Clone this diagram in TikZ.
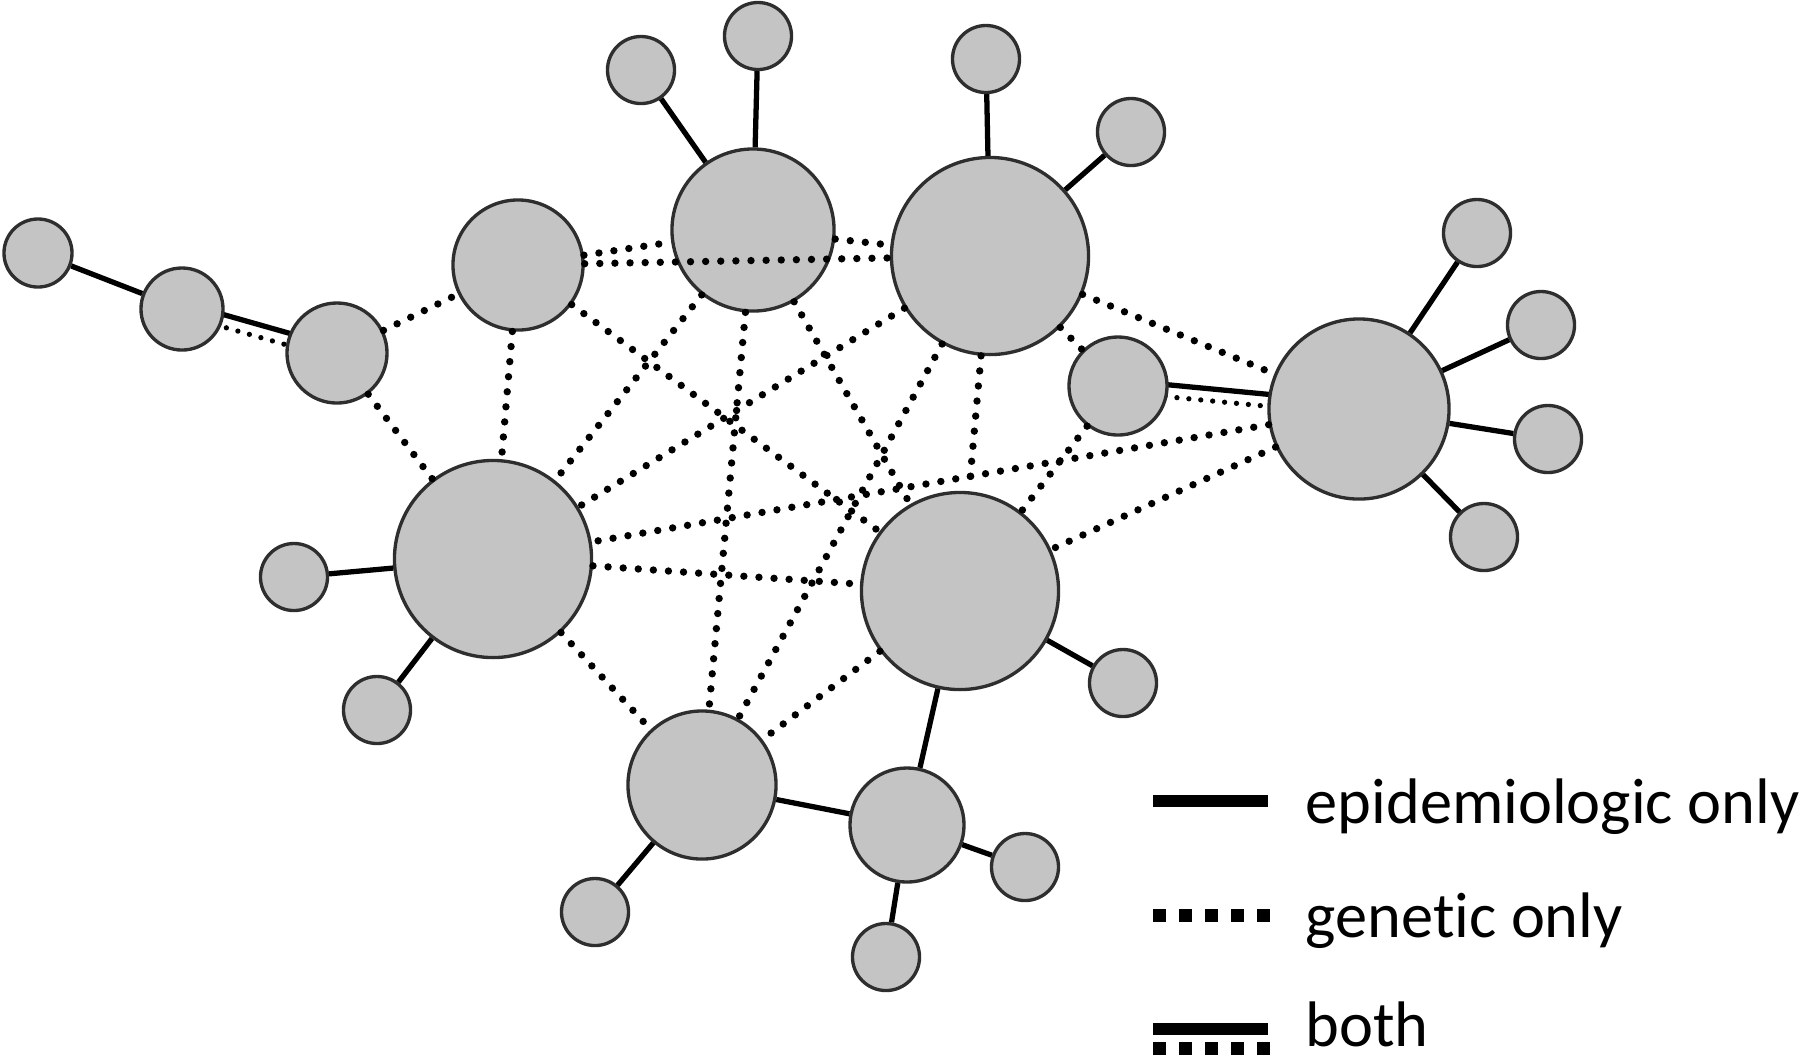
\documentclass[tikz,border=0pt]{standalone}
\usepackage{fontspec}
\setmainfont[Ligatures=NoCommon]{Carlito}
\usetikzlibrary{calc,backgrounds}
\definecolor{ngray}{HTML}{C4C4C4}
\definecolor{bord}{HTML}{2E2E2E}
\begin{document}
\begin{tikzpicture}[x=0.01cm,y=-0.01cm,
 nd/.style={circle,draw=bord,fill=ngray,line width=0.95pt,inner sep=0pt,minimum size=#1},
 epi/.style={line width=1.5pt,black},
 gen/.style={line width=2.1pt,black,line cap=round,dash pattern=on 0pt off 4.3pt},
 genb/.style={line width=1.5pt,black,line cap=round,dash pattern=on 0pt off 3.4pt},
 legsolid/.style={line width=3.4pt,black},
 legdot/.style={line width=3.7pt,black,dash pattern=on 3.7pt off 3.7pt},
 lbl/.style={anchor=base west,inner sep=0pt,font=\fontsize{18.3pt}{22pt}\selectfont}]
\useasboundingbox (0,0) rectangle (1800,1059);

% nodes
\node[nd=0.68cm] (L1) at (38,253) {};
\node[nd=0.82cm] (L2) at (182,309) {};
\node[nd=1.00cm] (L3) at (337,353) {};
\node[nd=1.30cm] (A) at (518,265) {};
\node[nd=1.62cm] (B) at (753,230) {};
\node[nd=0.67cm] (B1) at (641,70) {};
\node[nd=0.67cm] (B2) at (758,36) {};
\node[nd=1.97cm] (C) at (990,256) {};
\node[nd=0.67cm] (C1) at (986,59) {};
\node[nd=0.67cm] (C2) at (1131,132) {};
\node[nd=0.98cm] (D) at (1118,386) {};
\node[nd=1.80cm] (E) at (1359,409) {};
\node[nd=0.67cm] (E1) at (1477,233) {};
\node[nd=0.67cm] (E2) at (1541,325) {};
\node[nd=0.67cm] (E3) at (1548,439) {};
\node[nd=0.67cm] (E4) at (1484,537) {};
\node[nd=1.97cm] (F) at (493,559) {};
\node[nd=0.67cm] (F1) at (294,577) {};
\node[nd=0.67cm] (F2) at (377,710) {};
\node[nd=1.97cm] (G) at (960,591) {};
\node[nd=0.67cm] (G1) at (1123,683) {};
\node[nd=1.48cm] (H) at (702,785) {};
\node[nd=0.67cm] (H1) at (595,912) {};
\node[nd=1.14cm] (I) at (907,825) {};
\node[nd=0.67cm] (I1) at (1025,867) {};
\node[nd=0.67cm] (I2) at (886,957) {};

% both (epidemiologic and genetic)
\begin{scope}[on background layer]
\draw[epi] ($(L2)!1.7pt!90:(L3)$) -- ($(L3)!1.7pt!-90:(L2)$);
\draw[genb] ($(L2)!1.7pt!-90:(L3)$) -- ($(L3)!1.7pt!90:(L2)$);
\draw[epi] ($(D)!1.7pt!90:(E)$) -- ($(E)!1.7pt!-90:(D)$);
\draw[genb] ($(D)!1.7pt!-90:(E)$) -- ($(E)!1.7pt!90:(D)$);
\end{scope}

% epidemiologic only
\foreach \a/\b in {L1/L2,B/B1,B/B2,C/C1,C/C2,E/E1,E/E2,E/E3,E/E4,F/F1,F/F2,G/G1,G/I,H/I,H/H1,I/I1,I/I2}
  \draw[epi] (\a) -- (\b);

% genetic only
\foreach \a/\b in {L3/A,L3/F,A/B,A/C,A/F,A/G,B/C,B/F,B/H,B/G,C/F,C/H,C/G,C/D,C/E,D/G,E/F,E/G,F/G,F/H,G/H}
  \draw[gen] (\a) -- (\b);

% legend
\coordinate (s1) at (1153,801); \coordinate (e1) at (1268,801);
\coordinate (s2) at (1153,915); \coordinate (e2) at (1272,915);
\coordinate (s3) at (1153,1029); \coordinate (e3) at (1268,1029);
\coordinate (s4) at (1153,1048); \coordinate (e4) at (1272,1048);
\draw[legsolid] (s1) -- (e1);
\draw[legdot] (s2) -- (e2);
\draw[legsolid] (s3) -- (e3);
\draw[legdot] (s4) -- (e4);
\node[lbl] (t1) at (1305,823) {epidemiologic only};
\node[lbl] (t2) at (1305,937) {genetic only};
\node[lbl] (t3) at (1305,1046) {both};
\end{tikzpicture}
\end{document}
